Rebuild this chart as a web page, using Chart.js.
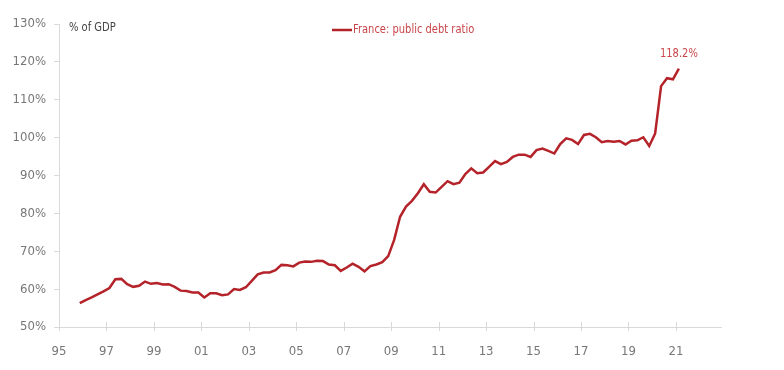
<!DOCTYPE html>
<html>
<head>
<meta charset="utf-8">
<script src="https://cdn.jsdelivr.net/npm/chart.js@4.4.1/dist/chart.umd.min.js"></script>
<style>
  html, body { margin: 0; padding: 0; background: #fff; }
  #wrap { width: 784px; height: 370px; }
</style>
</head>
<body>
<div id="wrap"><canvas id="chart" width="784" height="370"></canvas></div>
<script>
// Quarterly public debt ratio, % of GDP
const quarters = [
  '1995Q4',
  '1996Q1', '1996Q2', '1996Q3', '1996Q4',
  '1997Q1', '1997Q2', '1997Q3', '1997Q4',
  '1998Q1', '1998Q2', '1998Q3', '1998Q4',
  '1999Q1', '1999Q2', '1999Q3', '1999Q4',
  '2000Q1', '2000Q2', '2000Q3', '2000Q4',
  '2001Q1', '2001Q2', '2001Q3', '2001Q4',
  '2002Q1', '2002Q2', '2002Q3', '2002Q4',
  '2003Q1', '2003Q2', '2003Q3', '2003Q4',
  '2004Q1', '2004Q2', '2004Q3', '2004Q4',
  '2005Q1', '2005Q2', '2005Q3', '2005Q4',
  '2006Q1', '2006Q2', '2006Q3', '2006Q4',
  '2007Q1', '2007Q2', '2007Q3', '2007Q4',
  '2008Q1', '2008Q2', '2008Q3', '2008Q4',
  '2009Q1', '2009Q2', '2009Q3', '2009Q4',
  '2010Q1', '2010Q2', '2010Q3', '2010Q4',
  '2011Q1', '2011Q2', '2011Q3', '2011Q4',
  '2012Q1', '2012Q2', '2012Q3', '2012Q4',
  '2013Q1', '2013Q2', '2013Q3', '2013Q4',
  '2014Q1', '2014Q2', '2014Q3', '2014Q4',
  '2015Q1', '2015Q2', '2015Q3', '2015Q4',
  '2016Q1', '2016Q2', '2016Q3', '2016Q4',
  '2017Q1', '2017Q2', '2017Q3', '2017Q4',
  '2018Q1', '2018Q2', '2018Q3', '2018Q4',
  '2019Q1', '2019Q2', '2019Q3', '2019Q4',
  '2020Q1', '2020Q2', '2020Q3', '2020Q4',
  '2021Q1'
];
const debtRatio = [
  56.3,
  57.1, 57.8, 58.6, 59.4,
  60.3, 62.6, 62.7, 61.3,
  60.6, 60.9, 62.0, 61.4,
  61.6, 61.2, 61.3, 60.6,
  59.6, 59.5, 59.1, 59.1,
  57.8, 58.9, 58.9, 58.4,
  58.6, 60.0, 59.8, 60.5,
  62.2, 63.9, 64.4, 64.4,
  65.0, 66.4, 66.3, 66.0,
  67.0, 67.3, 67.2, 67.5,
  67.4, 66.5, 66.3, 64.8,
  65.7, 66.7, 65.9, 64.7,
  66.1, 66.5, 67.1, 68.7,
  73.0, 79.1, 81.8, 83.3,
  85.3, 87.7, 85.7, 85.5,
  87.0, 88.5, 87.7, 88.1,
  90.4, 91.9, 90.6, 90.8,
  92.3, 93.8, 93.0, 93.6,
  94.9, 95.5, 95.5, 94.9,
  96.7, 97.1, 96.5, 95.8,
  98.3, 99.8, 99.4, 98.3,
  100.7, 101.0, 100.1, 98.8,
  99.1, 98.9, 99.1, 98.2,
  99.2, 99.3, 100.1, 97.8,
  101.1, 113.6, 115.7, 115.4,
  118.2
];
const xTickYears = [1995, 1997, 1999, 2001, 2003, 2005, 2007, 2009, 2011, 2013, 2015, 2017, 2019, 2021];
const yTickValues = [50, 60, 70, 80, 90, 100, 110, 120, 130];

const seriesLabel = 'France: public debt ratio';
const axisTitle = '% of GDP';
const lastLabel = '118.2%';

const FONT = "'Liberation Sans Narrow', 'DejaVu Sans Condensed', 'Roboto Condensed', sans-serif";
const LINE_RED = '#b5232a';
const TEXT_RED = '#c9454a';
const SQUEEZE = 0.85; // the original uses a condensed face

// quarter label -> decimal year at mid-quarter
function quarterToX(q) {
  const year = parseInt(q.slice(0, 4), 10);
  const n = parseInt(q.slice(5), 10);
  return year + (n - 0.5) / 4;
}

const points = quarters.map((q, i) => ({ x: quarterToX(q), y: debtRatio[i] }));

function narrowText(ctx, text, x, y) {
  ctx.save();
  ctx.translate(x, y);
  ctx.scale(SQUEEZE, 1);
  ctx.fillText(text, 0, 0);
  ctx.restore();
}

const overlayPlugin = {
  id: 'overlay',
  afterDraw(chart) {
    const ctx = chart.ctx;
    const area = chart.chartArea;
    const xScale = chart.scales.x;
    ctx.save();

    // x-axis tick marks crossing the axis line
    ctx.strokeStyle = '#d9d9d9';
    ctx.lineWidth = 1;
    xTickYears.forEach(v => {
      const px = Math.round(xScale.getPixelForValue(v)) + 0.5;
      ctx.beginPath();
      ctx.moveTo(px, area.bottom - 5);
      ctx.lineTo(px, area.bottom + 4);
      ctx.stroke();
    });

    // axis title in the top-left corner
    ctx.fillStyle = '#444';
    ctx.font = '13px ' + FONT;
    ctx.textAlign = 'left';
    ctx.textBaseline = 'middle';
    narrowText(ctx, axisTitle, area.left + 10, area.top + 4);

    // legend
    const ds = chart.data.datasets[0];
    const lx = 332, ly = 30;
    ctx.strokeStyle = ds.borderColor;
    ctx.lineWidth = 2.5;
    ctx.beginPath();
    ctx.moveTo(lx, ly);
    ctx.lineTo(lx + 20, ly);
    ctx.stroke();
    ctx.fillStyle = TEXT_RED;
    narrowText(ctx, ds.label, lx + 21, ly);

    // label on the last point
    const meta = chart.getDatasetMeta(0);
    const last = meta.data[meta.data.length - 1];
    ctx.textAlign = 'center';
    ctx.textBaseline = 'bottom';
    ctx.font = '13px ' + FONT;
    narrowText(ctx, lastLabel, last.x, last.y - 9);

    ctx.restore();
  }
};

new Chart(document.getElementById('chart'), {
  type: 'line',
  data: {
    datasets: [{
      label: seriesLabel,
      data: points,
      borderColor: LINE_RED,
      borderWidth: 2.5,
      pointRadius: 0,
      tension: 0,
      fill: false
    }]
  },
  options: {
    responsive: false,
    animation: false,
    layout: { padding: { left: 0, right: 63, top: 24, bottom: 0 } },
    plugins: {
      legend: { display: false },
      tooltip: { enabled: false }
    },
    scales: {
      x: {
        type: 'linear',
        min: 1995,
        max: 2022.9,
        afterBuildTicks: scale => { scale.ticks = xTickYears.map(v => ({ value: v })); },
        afterFit: scale => { scale.height = 43; },
        grid: { display: false },
        border: { display: true, color: '#d9d9d9', width: 1 },
        ticks: {
          padding: 9,
          color: '#777',
          font: { family: FONT, size: 13 },
          maxRotation: 0,
          autoSkip: false,
          callback: v => String(v).slice(2)
        }
      },
      y: {
        min: 50,
        max: 130,
        afterBuildTicks: scale => { scale.ticks = yTickValues.map(v => ({ value: v })); },
        afterFit: scale => { scale.width = 59; },
        grid: { drawOnChartArea: false, tickLength: 5, color: '#d9d9d9' },
        border: { display: true, color: '#d9d9d9', width: 1 },
        ticks: {
          padding: 8,
          color: '#777',
          font: { family: FONT, size: 13 },
          callback: v => v + '%'
        }
      }
    }
  },
  plugins: [overlayPlugin]
});
</script>
</body>
</html>
